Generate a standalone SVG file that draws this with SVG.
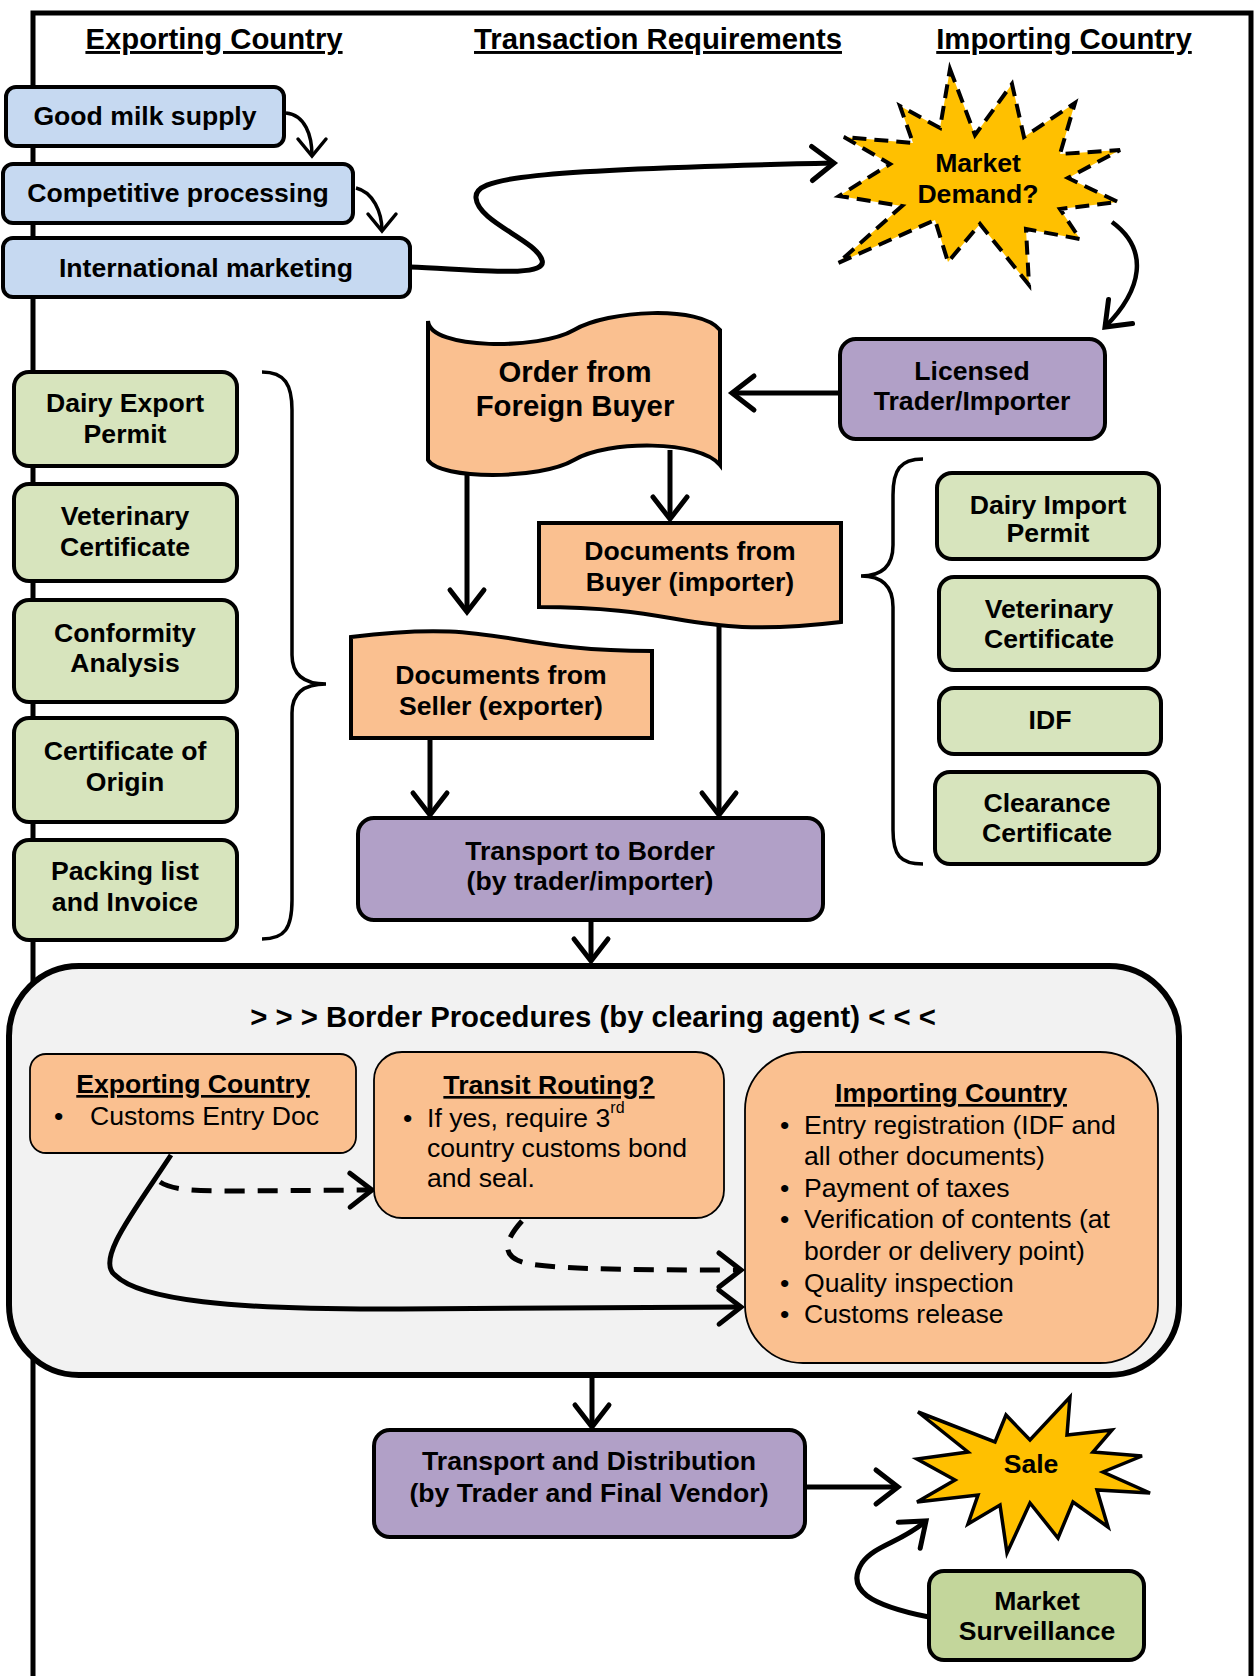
<svg xmlns="http://www.w3.org/2000/svg" width="1256" height="1676" viewBox="0 0 1256 1676">
<defs>
<style>
text{font-family:"Liberation Sans",Arial,Helvetica,sans-serif;fill:#000;}
.b{font-weight:bold;font-size:26.6px;text-anchor:middle;}
.big{font-weight:bold;font-size:29.3px;text-anchor:middle;}
.h{font-weight:bold;font-size:29.3px;text-anchor:middle;text-decoration:underline;}
.u{font-weight:bold;font-size:26.6px;text-anchor:middle;text-decoration:underline;}
.r{font-size:26.6px;}
.box{stroke:#000;stroke-width:4;}
.blue{fill:#C6D9F1;}
.green{fill:#D7E4BD;}
.green2{fill:#C3D69B;}
.purple{fill:#B1A0C7;}
.orange{fill:#FAC090;}
.thin{stroke:#000;stroke-width:1.8;}
.c{fill:none;stroke:#000;stroke-width:5;}
.cs{fill:none;stroke:#000;stroke-width:3.5;}
.d{stroke-dasharray:20 13;}
.brace{fill:none;stroke:#000;stroke-width:3.5;}
.star{fill:#FFC000;stroke:#000;stroke-width:3.5;stroke-linejoin:miter;}
</style>
<marker id="ah" markerUnits="userSpaceOnUse" viewBox="-30 -25 40 50" markerWidth="40" markerHeight="50" refX="0" refY="0" orient="auto" overflow="visible">
<path d="M-22,-17 L0,0 L-22,17" fill="none" stroke="#000" stroke-width="5" stroke-linecap="round"/>
</marker>
<marker id="ahs" markerUnits="userSpaceOnUse" viewBox="-30 -25 40 50" markerWidth="40" markerHeight="50" refX="0" refY="0" orient="auto" overflow="visible">
<path d="M-17,-14 L0,0 L-17,14" fill="none" stroke="#000" stroke-width="3.5" stroke-linecap="round"/>
</marker>
</defs>

<rect id="frame" x="33" y="13" width="1218" height="1700" fill="none" stroke="#000" stroke-width="5"/>

<g id="headers">
<text class="h" x="214" y="49">Exporting Country</text>
<text class="h" x="658" y="49">Transaction Requirements</text>
<text class="h" x="1064" y="49">Importing Country</text>
</g>

<g id="border-area">
<rect x="9" y="966" width="1170" height="409" rx="70" fill="#F2F2F2" stroke="#000" stroke-width="6"/>
<text class="big" x="593" y="1027">&gt; &gt; &gt; Border Procedures (by clearing agent) &lt; &lt; &lt;</text>
</g>

<g id="connectors">
<path class="cs" d="M286,113 C305,115 312,135 312,156" marker-end="url(#ahs)"/>
<path class="cs" d="M356,188 C373,192 382,212 382,231" marker-end="url(#ahs)"/>
<path class="c" d="M410,267 C480,270 548,278 542,260 C536,240 478,222 476,198 C474,178 520,170 834,163" marker-end="url(#ah)"/>
<path class="c" style="stroke-width:4.5" d="M1112,222 C1150,250 1142,290 1105,327" marker-end="url(#ah)"/>
<path class="c" d="M840,393 H732" marker-end="url(#ah)"/>
<path class="c" d="M670,450 V519" marker-end="url(#ah)"/>
<path class="c" d="M467,471 V612" marker-end="url(#ah)"/>
<path class="c" d="M430,738 V815" marker-end="url(#ah)"/>
<path class="c" d="M719,624 V815" marker-end="url(#ah)"/>
<path class="c" d="M591,920 V961" marker-end="url(#ah)"/>
<path class="c" d="M171,1155 C135,1210 95,1260 115,1275 C140,1300 230,1310 400,1309 L741,1307" marker-end="url(#ah)"/>
<path class="c d" d="M160,1182 C172,1190 195,1191 230,1191 L372,1190" marker-end="url(#ah)"/>
<path class="c d" d="M522,1221 C505,1240 498,1258 530,1264 C570,1270 650,1270 741,1270" marker-end="url(#ah)"/>
<path class="c" d="M592,1376 V1427" marker-end="url(#ah)"/>
<path class="c" d="M805,1487 H898" marker-end="url(#ah)"/>
<path class="c" d="M929,1617 C870,1605 845,1590 862,1563 C875,1545 900,1543 926,1521" marker-end="url(#ah)"/>
</g>

<g id="braces">
<path class="brace" d="M262,372 C285,372 292,385 292,410 V655 C292,676 305,684 326,684 C305,684 292,692 292,713 V900 C292,928 285,939 262,939"/>
<path class="brace" d="M923,459 C900,459 893,470 893,495 V545 C893,568 880,576 861,576 C880,576 893,584 893,607 V830 C893,855 900,864 923,864"/>
</g>

<g id="good-milk"><rect class="box blue" x="6" y="87" width="278" height="59" rx="10"/><text class="b" x="145" y="125">Good milk supply</text></g>
<g id="competitive"><rect class="box blue" x="3" y="164" width="350" height="59" rx="10"/><text class="b" x="178" y="202">Competitive processing</text></g>
<g id="intl-marketing"><rect class="box blue" x="3" y="238" width="407" height="59" rx="10"/><text class="b" x="206" y="277">International marketing</text></g>

<g id="market-demand">
<polygon class="star" style="stroke-dasharray:14 8;stroke-width:4" points="950,69 975,135 1012,84 1024,137 1075,103 1060,154 1120,150 1068,178 1118,202 1060,209 1080,239 1026,229 1029,285 980,224 948,262 935,220 838,263 902,206 839,196 890,164 844,137 913,143 900,106 940,128"/>
<text class="b" x="978" y="172">Market</text><text class="b" x="978" y="203">Demand?</text>
</g>

<g id="licensed"><rect class="box purple" x="840" y="339" width="265" height="100" rx="16"/><text class="b" x="972" y="380">Licensed</text><text class="b" x="972" y="410">Trader/Importer</text></g>

<g id="order">
<path class="box orange" d="M428,321 C430,350 540,350 574,330 C608,310 700,305 720,330 L720,465 C700,440 608,440 574,460 C540,480 440,480 428,460 Z"/>
<text class="big" x="575" y="382">Order from</text><text class="big" x="575" y="416">Foreign Buyer</text>
</g>

<g id="docs-buyer">
<path class="box orange" d="M539,523 H841 V622 C690,640 690,607 539,607 Z"/>
<text class="b" x="690" y="560">Documents from</text><text class="b" x="690" y="591">Buyer (importer)</text>
</g>

<g id="docs-seller">
<path class="box orange" d="M351,738 V637 C501,618 501,651 652,651 V738 Z"/>
<text class="b" x="501" y="684">Documents from</text><text class="b" x="501" y="715">Seller (exporter)</text>
</g>

<g id="transport-border"><rect class="box purple" x="358" y="818" width="465" height="102" rx="16"/><text class="b" x="590" y="860">Transport to Border</text><text class="b" x="590" y="890">(by trader/importer)</text></g>

<g id="dairy-export"><rect class="box green" x="14" y="372" width="223" height="94" rx="15"/><text class="b" x="125" y="412">Dairy Export</text><text class="b" x="125" y="443">Permit</text></g>
<g id="vet-cert-exp"><rect class="box green" x="14" y="484" width="223" height="97" rx="15"/><text class="b" x="125" y="525">Veterinary</text><text class="b" x="125" y="556">Certificate</text></g>
<g id="conformity"><rect class="box green" x="14" y="600" width="223" height="102" rx="15"/><text class="b" x="125" y="642">Conformity</text><text class="b" x="125" y="672">Analysis</text></g>
<g id="cert-origin"><rect class="box green" x="14" y="718" width="223" height="104" rx="15"/><text class="b" x="125" y="760">Certificate of</text><text class="b" x="125" y="791">Origin</text></g>
<g id="packing"><rect class="box green" x="14" y="840" width="223" height="100" rx="15"/><text class="b" x="125" y="880">Packing list</text><text class="b" x="125" y="911">and Invoice</text></g>

<g id="dairy-import"><rect class="box green" x="937" y="473" width="222" height="86" rx="15"/><text class="b" x="1048" y="514">Dairy Import</text><text class="b" x="1048" y="542">Permit</text></g>
<g id="vet-cert-imp"><rect class="box green" x="939" y="577" width="220" height="93" rx="15"/><text class="b" x="1049" y="618">Veterinary</text><text class="b" x="1049" y="648">Certificate</text></g>
<g id="idf"><rect class="box green" x="939" y="688" width="222" height="66" rx="15"/><text class="b" x="1050" y="729">IDF</text></g>
<g id="clearance"><rect class="box green" x="935" y="772" width="224" height="92" rx="15"/><text class="b" x="1047" y="812">Clearance</text><text class="b" x="1047" y="842">Certificate</text></g>

<g id="border-exporting">
<rect class="thin orange" x="30" y="1054" width="326" height="99" rx="16"/>
<text class="u" x="193" y="1093">Exporting Country</text>
<text class="r" x="54" y="1125">•</text><text class="r" x="90" y="1125">Customs Entry Doc</text>
</g>
<g id="border-transit">
<rect class="thin orange" x="374" y="1052" width="350" height="166" rx="28"/>
<text class="u" x="549" y="1094">Transit Routing?</text>
<text class="r" x="403" y="1127">•</text>
<text class="r" x="427" y="1127">If yes, require 3<tspan font-size="16" dy="-14">rd</tspan></text>
<text class="r" x="427" y="1157">country customs bond</text>
<text class="r" x="427" y="1187">and seal.</text>
</g>
<g id="border-importing">
<rect class="thin orange" x="745" y="1052" width="413" height="311" rx="58"/>
<text class="u" x="951" y="1102">Importing Country</text>
<text class="r" x="780" y="1134">•</text><text class="r" x="804" y="1134">Entry registration (IDF and</text>
<text class="r" x="804" y="1165">all other documents)</text>
<text class="r" x="780" y="1197">•</text><text class="r" x="804" y="1197">Payment of taxes</text>
<text class="r" x="780" y="1228">•</text><text class="r" x="804" y="1228">Verification of contents (at</text>
<text class="r" x="804" y="1260">border or delivery point)</text>
<text class="r" x="780" y="1292">•</text><text class="r" x="804" y="1292">Quality inspection</text>
<text class="r" x="780" y="1323">•</text><text class="r" x="804" y="1323">Customs release</text>
</g>

<g id="transport-distribution"><rect class="box purple" x="374" y="1430" width="431" height="107" rx="16"/><text class="b" x="589" y="1470">Transport and Distribution</text><text class="b" x="589" y="1502">(by Trader and Final Vendor)</text></g>

<g id="sale">
<polygon class="star" points="1070,1397 1067,1435 1112,1430 1093,1452 1142,1456 1103,1472 1150,1493 1097,1490 1108,1527 1073,1502 1058,1538 1030,1503 1007,1553 1000,1505 968,1524 978,1495 917,1502 955,1480 917,1459 968,1452 918,1412 995,1442 1006,1415 1030,1440"/>
<text class="b" x="1031" y="1473">Sale</text>
</g>

<g id="market-surveillance"><rect class="box green2" x="929" y="1571" width="215" height="89" rx="15"/><text class="b" x="1037" y="1610">Market</text><text class="b" x="1037" y="1640">Surveillance</text></g>
</svg>
